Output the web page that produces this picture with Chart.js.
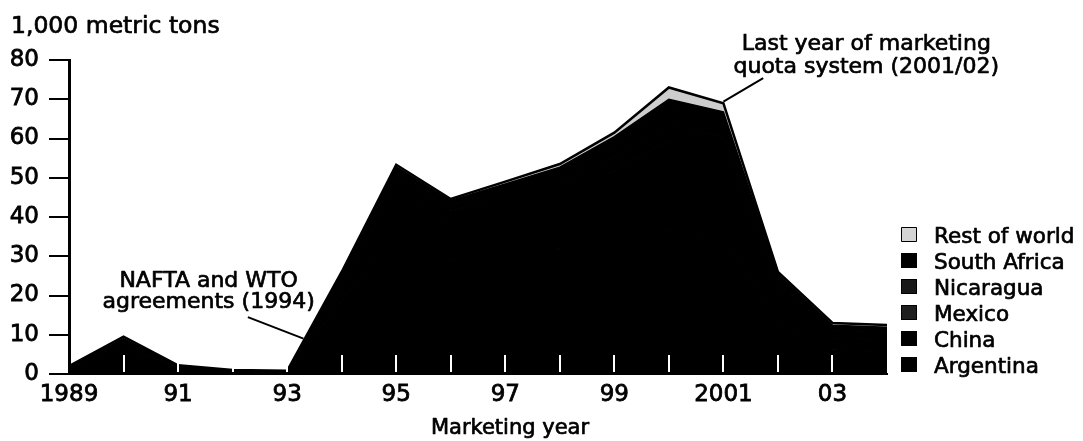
<!DOCTYPE html>
<html><head><meta charset="utf-8">
<script src="https://cdn.jsdelivr.net/npm/chart.js@4.4.1/dist/chart.umd.min.js"></script>
<style>html,body{margin:0;padding:0;background:#fff;}canvas{display:block;}</style>
</head><body>
<canvas id="c" width="1083" height="441"></canvas>
<script>
// ---- data (1,000 metric tons) ----
const years = ['1989','1990','1991','1992','1993','1994','1995','1996','1997','1998','1999','2000','2001','2002','2003','2004'];
const tickLabels = ['1989','','91','','93','','95','','97','','99','','2001','','03',''];
const argentina   = [1.6, 7.0, 1.5, 0.6, 0.4, 18.5, 37.3, 29.0, 30.4, 31.9, 34.7, 36.5, 35.5, 12.9, 6.2, 5.7];
const china       = [0.2, 1.0, 0.3, 0.2, 0.2, 4.0, 10.0, 9.0, 11.0, 13.0, 17.0, 23.0, 21.0, 8.0, 3.0, 3.0];
const mexico      = [0.0, 0.5, 0.2, 0.1, 0.1, 2.0, 3.5, 3.5, 3.5, 3.5, 3.8, 4.0, 3.8, 2.5, 2.0, 2.0];
const nicaragua   = [0.0, 0.0, 0.0, 0.0, 0.0, 0.5, 1.0, 1.5, 2.0, 2.5, 3.0, 4.0, 4.5, 1.5, 1.0, 1.0];
const southAfrica = [0.0, 0.5, 0.0, 0.0, 0.0, 0.5, 1.0, 1.2, 1.5, 1.8, 2.0, 2.5, 2.0, 0.5, 0.2, 0.2];
const restOfWorld = [0.2, 0.5, 0.2, 0.1, 0.1, 0.5, 0.5, 0.4, 0.6, 0.8, 1.0, 3.0, 2.2, 0.6, 0.6, 0.6];

const FONT = '"DejaVu Sans", sans-serif';

function ds(label, data, color, swatch, first){
  return {label, data, backgroundColor: color, borderColor: color, borderWidth: 1.5,
    swatch, fill: first ? 'origin' : '-1', pointRadius: 0, tension: 0};
}
const datasets = [
  ds('Argentina', argentina, '#000000', '#000000', true),
  ds('China', china, '#000000', '#000000'),
  ds('Mexico', mexico, '#000000', '#1e1e1e'),
  ds('Nicaragua', nicaragua, '#000000', '#181818'),
  ds('South Africa', southAfrica, '#000000', '#000000'),
  Object.assign(ds('Rest of world', restOfWorld, '#cdcdcd', '#d4d4d4'), {borderColor:'#000000', borderWidth:2.5})
];

function boldText(ctx, s, x, y){
  ctx.fillText(s, x, y);
  ctx.strokeText(s, x, y);
}

const decor = {
  id: 'decor',
  afterDatasetsDraw(chart){
    const {ctx, scales:{x}, chartArea} = chart;
    ctx.save();
    ctx.globalCompositeOperation = 'difference';
    ctx.strokeStyle = '#ffffff';
    ctx.lineWidth = 2;
    for (let i = 1; i < years.length - 1; i++){
      const px = Math.round(x.getPixelForValue(i));
      ctx.beginPath();
      ctx.moveTo(px, chartArea.bottom - 2);
      ctx.lineTo(px, chartArea.bottom - 19);
      ctx.stroke();
    }
    ctx.restore();
  },
  afterDraw(chart){
    const {ctx, scales:{x, y}} = chart;
    const P = (i, v) => [x.getPixelForValue(i), y.getPixelForValue(v)];
    ctx.save();
    ctx.fillStyle = '#000';
    ctx.strokeStyle = '#000';
    ctx.lineWidth = 0.7;
    ctx.lineJoin = 'round';
    // unit title
    ctx.font = '23.5px ' + FONT;
    ctx.textAlign = 'left';
    ctx.textBaseline = 'alphabetic';
    boldText(ctx, '1,000 metric tons', 11, 33);
    // x title
    ctx.font = '21px ' + FONT;
    ctx.textAlign = 'center';
    boldText(ctx, 'Marketing year', 510, 434);
    // annotations
    ctx.font = '22px ' + FONT;
    let p = P(2.56, 22.2);
    boldText(ctx, 'NAFTA and WTO', p[0], p[1]);
    p = P(2.56, 16.8);
    boldText(ctx, 'agreements (1994)', p[0], p[1]);
    p = P(14.62, 82.5);
    boldText(ctx, 'Last year of marketing', p[0], p[1]);
    p = P(14.62, 76.6);
    boldText(ctx, 'quota system (2001/02)', p[0], p[1]);
    ctx.lineWidth = 2;
    let a = P(3.28, 14.5), b = P(4.3, 9.0);
    ctx.beginPath(); ctx.moveTo(a[0], a[1]); ctx.lineTo(b[0], b[1]); ctx.stroke();
    a = P(12.73, 75.4); b = P(12.0, 69.4);
    ctx.beginPath(); ctx.moveTo(a[0], a[1]); ctx.lineTo(b[0], b[1]); ctx.stroke();
    // legend
    ctx.font = '21.5px ' + FONT;
    ctx.textAlign = 'left';
    const list = chart.data.datasets.slice().reverse();
    list.forEach((d, k) => {
      const cy = 234.5 + 26 * k;
      ctx.fillStyle = d.swatch;
      ctx.fillRect(901, cy - 7.5, 16, 15);
      ctx.lineWidth = 1;
      ctx.strokeStyle = '#000';
      ctx.strokeRect(901.5, cy - 7, 15, 14);
      ctx.fillStyle = '#000';
      ctx.lineWidth = 0.7;
      boldText(ctx, d.label, 934, cy + 8);
    });
    ctx.restore();
  }
};

const tickFont = { family: FONT, size: 23 };
new Chart(document.getElementById('c'), {
  type: 'line',
  data: { labels: years, datasets },
  plugins: [decor],
  options: {
    responsive: false,
    animation: false,
    devicePixelRatio: 1,
    layout: { padding: { left: 0, right: 196, top: 60, bottom: 0 } },
    plugins: { legend: { display: false }, tooltip: { enabled: false } },
    elements: { line: { borderJoinStyle: 'miter' } },
    scales: {
      x: {
        type: 'category',
        offset: false,
        grid: { display: false, drawTicks: false },
        border: { display: true, color: '#000', width: 2 },
        ticks: {
          autoSkip: false, maxRotation: 0, padding: 7,
          color: '#000', font: tickFont, textStrokeColor: '#000', textStrokeWidth: 0.8,
          callback: (v, i) => tickLabels[i]
        },
        afterFit: s => { s.height = 67; }
      },
      y: {
        stacked: true,
        min: 0, max: 80,
        ticks: { stepSize: 10, padding: 10, color: '#000', font: tickFont, textStrokeColor: '#000', textStrokeWidth: 0.8 },
        grid: { display: true, drawOnChartArea: false, drawTicks: true, tickLength: 20, color: '#000', lineWidth: 2 },
        border: { display: true, color: '#000', width: 3 },
        afterFit: s => { s.width = 69; }
      }
    }
  }
});
</script>
</body></html>
